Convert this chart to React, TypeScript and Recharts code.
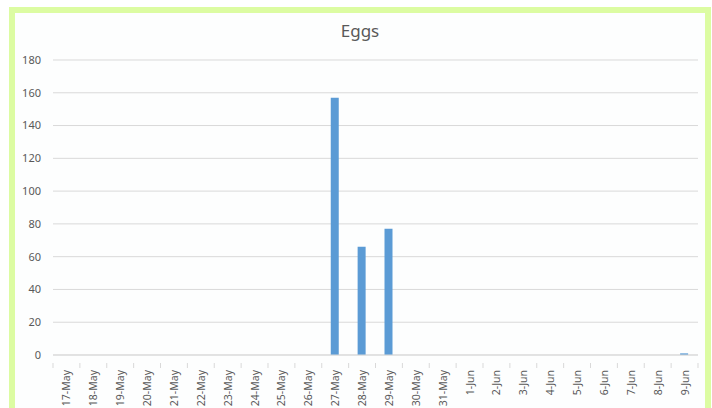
import React from "react";
import { BarChart, Bar, XAxis, YAxis, CartesianGrid } from "recharts";

// Eggs per day
const days = [
  "17-May", "18-May", "19-May", "20-May", "21-May", "22-May", "23-May", "24-May",
  "25-May", "26-May", "27-May", "28-May", "29-May", "30-May", "31-May", "1-Jun",
  "2-Jun", "3-Jun", "4-Jun", "5-Jun", "6-Jun", "7-Jun", "8-Jun", "9-Jun",
];
const eggs = [0, 0, 0, 0, 0, 0, 0, 0, 0, 0, 157, 66, 77, 0, 0, 0, 0, 0, 0, 0, 0, 0, 0, 1];
const yTicks = [0, 20, 40, 60, 80, 100, 120, 140, 160, 180];

const data = days.map((d, i) => ({ day: d, eggs: eggs[i] }));

const W = 690;
const H = 395;
const M = { top: 47, right: 7, bottom: 0, left: 0 };
const Y_W = 38;
const BAND = (W - M.left - M.right - Y_W) / days.length;

const AXIS = "#d9d9d9";
const TXT = "#595959";

const DayTick: React.FC<any> = ({ x, y, payload, index }) => {
  const last = index === days.length - 1;
  return (
    <g>
      <line x1={x - BAND / 2} y1={y} x2={x - BAND / 2} y2={y + 5} stroke={AXIS} />
      {last && <line x1={x + BAND / 2} y1={y} x2={x + BAND / 2} y2={y + 5} stroke={AXIS} />}
      <text
        x={x}
        y={y + 7}
        transform={`rotate(-90, ${x}, ${y + 7})`}
        textAnchor="end"
        dominantBaseline="central"
        fontSize={10.5}
        fontFamily="'Noto Sans', sans-serif"
        fill={TXT}
      >
        {payload.value}
      </text>
    </g>
  );
};

export default function App() {
  return (
    <div
      style={{
        position: "fixed",
        left: 9,
        top: 7,
        width: W,
        height: 401,
        overflow: "hidden",
        border: "6px solid #dcfca2",
        borderBottom: "none",
        background: "#fdfefe",
        fontFamily: "'Noto Sans', sans-serif",
      }}
    >
      <div
        style={{
          position: "absolute",
          top: 6,
          left: 0,
          width: W,
          textAlign: "center",
          fontSize: 17,
          lineHeight: "24px",
          color: TXT,
        }}
      >
        Eggs
      </div>
      <BarChart width={W} height={H} data={data} margin={M} barCategoryGap="35%">
        <CartesianGrid vertical={false} stroke={AXIS} />
        <XAxis
          dataKey="day"
          interval={0}
          height={H - M.top - 295}
          stroke={AXIS}
          tickLine={false}
          tick={<DayTick />}
        />
        <YAxis
          domain={[0, 180]}
          ticks={yTicks}
          width={Y_W}
          axisLine={false}
          tickLine={false}
          tickSize={6}
          tickMargin={6}
          tick={{ fontSize: 11, fill: TXT, fontFamily: "'Noto Sans', sans-serif" }}
        />
        <Bar dataKey="eggs" fill="#5b9bd5" barSize={8} isAnimationActive={false} />
      </BarChart>
    </div>
  );
}
